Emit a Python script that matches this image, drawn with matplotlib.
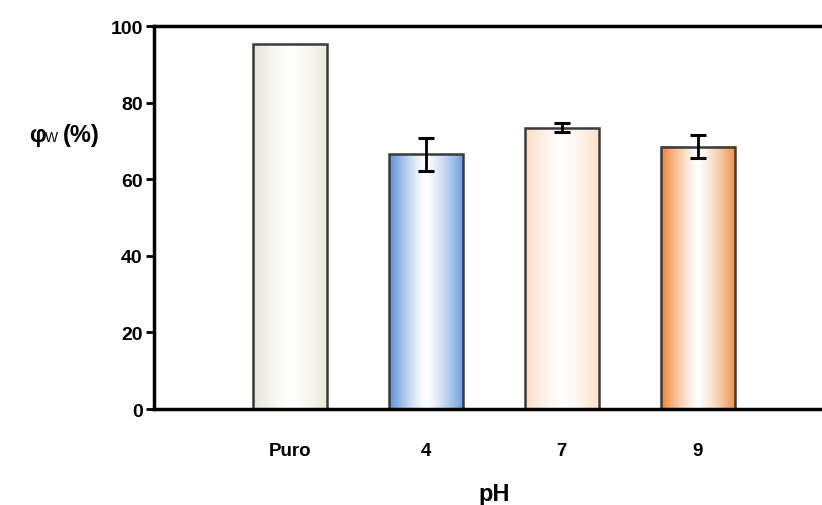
import numpy as np
import matplotlib.pyplot as plt
from matplotlib.colors import to_rgb

# datos
grupos = ["Puro", "4", "7", "9"]
phi_w = [95.2, 66.5, 73.5, 68.5]
err = [0, 4.3, 1.1, 3.0]
colores = ["#e6e5d6", "#5a8ed6", "#fcdcc2", "#ec8232"]

plt.rcParams['font.family'] = ['Liberation Sans', 'DejaVu Sans']
plt.rcParams['font.weight'] = 'bold'

fig = plt.figure(figsize=(8.22, 5.06), dpi=100)
ax = fig.add_axes([0.1873, 0.1897, 0.827, 0.7569])

x = np.arange(1, len(grupos) + 1)
ancho = 0.54


def degradado(color, n=200):
    # borde con color -> blanco al centro -> borde un poco mas claro
    c = np.array(to_rgb(color))
    blanco = np.ones(3)
    t = np.linspace(-1, 1, n)
    w = np.abs(t) ** 1.3
    w = np.where(t > 0, w * 0.85, w)
    img = blanco[None, :] * (1 - w[:, None]) + c[None, :] * w[:, None]
    return img[None, :, :]


for xi, v, e, c in zip(x, phi_w, err, colores):
    ax.imshow(degradado(c), extent=[xi - ancho / 2, xi + ancho / 2, 0, v],
              aspect='auto', zorder=2, interpolation='bilinear')
    ax.bar(xi, v, width=ancho, facecolor='none', edgecolor='#3a3a3a',
           linewidth=1.8, zorder=3)
    if e > 0:
        ax.errorbar(xi, v, yerr=e, fmt='none', ecolor='black', elinewidth=2,
                    capsize=6, capthick=2.2, zorder=4)

ax.set_xlim(0, 5)
ax.set_ylim(0, 100)
ax.set_yticks([0, 20, 40, 60, 80, 100])
ax.set_xticks(x)
ax.set_xticklabels(grupos)

ax.spines['right'].set_visible(False)
for s in ['left', 'top', 'bottom']:
    ax.spines[s].set_linewidth(2.5)
    ax.spines[s].set_zorder(5)

ax.tick_params(axis='y', direction='out', length=6, width=2, labelsize=14, pad=2)
ax.tick_params(axis='x', length=0, labelsize=13.5, pad=24)
for lab in ax.get_xticklabels() + ax.get_yticklabels():
    lab.set_fontweight('bold')

ax.set_xlabel("pH", fontsize=17, fontweight='bold', labelpad=16)

# etiqueta del eje y con subindice
fig.text(0.036, 0.733, "φ", fontsize=17, fontweight='bold', ha='left', va='center')
fig.text(0.055, 0.727, "W", fontsize=10, fontweight='normal', ha='left', va='center')
fig.text(0.076, 0.733, "(%)", fontsize=17, fontweight='bold', ha='left', va='center')

fig.savefig("out.png", dpi=100)
